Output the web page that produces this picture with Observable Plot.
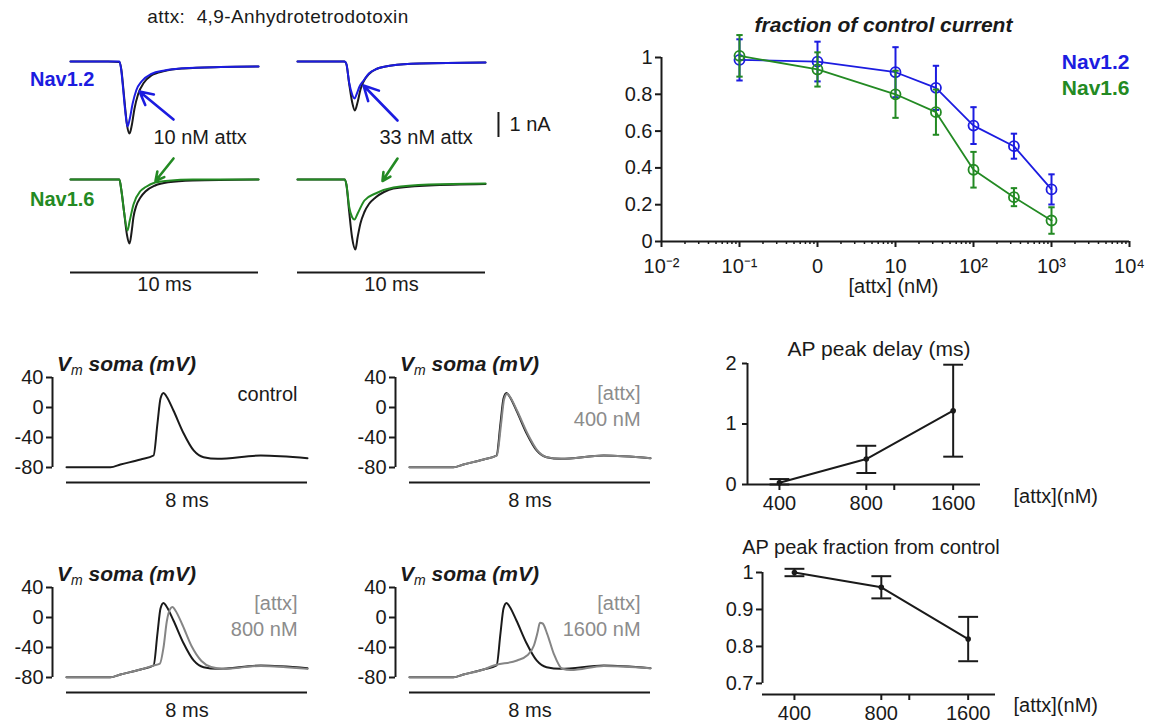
<!DOCTYPE html>
<html><head><meta charset="utf-8">
<script src="https://cdn.jsdelivr.net/npm/d3@7"></script>
<script src="https://cdn.jsdelivr.net/npm/@observablehq/plot@0.6"></script>
<style>
html,body{margin:0;padding:0;background:#fff;}
#fig{position:relative;width:1149px;height:725px;overflow:hidden;font-family:"Liberation Sans",Arial,sans-serif;color:#1a1a1a;background:#fff;}
#fig svg{overflow:visible;}
.lbl{position:absolute;white-space:nowrap;line-height:1.1;}
.vm{font-weight:bold;font-style:italic;font-size:21px;}
.vm sub{font-weight:normal;font-size:14px;vertical-align:-4px;}
</style></head><body><div id="fig"></div>
<script>
// ================= DATA =================
// Panel A: Na+ current traces, [time (ms), current (nA)]
const a10Nav12Control = [[0,0],[2.0,0],[2.6,-0.02],[2.7,-0.3],[2.8,-1.0],[2.9,-1.8],[3.0,-2.5],[3.14,-2.88],[3.26,-2.55],[3.4,-1.9],[3.6,-1.3],[3.9,-0.85],[4.3,-0.56],[5.0,-0.38],[6.0,-0.28],[8.0,-0.22],[10,-0.2]];
const a10Nav12Attx    = [[0,0],[2.6,0],[2.7,-0.35],[2.8,-1.1],[2.9,-1.9],[3.03,-2.6],[3.15,-2.3],[3.3,-1.7],[3.5,-1.15],[3.8,-0.78],[4.3,-0.5],[5.0,-0.36],[6.0,-0.27],[8.0,-0.22],[10,-0.2]];
const a10Nav16Control = [[0,0],[2.6,0],[2.7,-0.4],[2.85,-1.3],[3.0,-2.2],[3.14,-2.56],[3.25,-2.1],[3.35,-1.5],[3.5,-1.05],[3.72,-0.72],[4.0,-0.47],[4.5,-0.24],[5.2,-0.11],[6.5,-0.04],[10,0]];
const a10Nav16Attx    = [[0,0],[2.6,0],[2.7,-0.4],[2.85,-1.3],[3.03,-2.04],[3.15,-1.65],[3.35,-1.0],[3.72,-0.46],[4.0,-0.3],[4.5,-0.12],[5.2,-0.05],[6.5,0],[10,0]];
const a33Nav12Control = [[0,0],[2.5,0],[2.6,-0.1],[2.75,-0.9],[2.9,-1.6],[3.05,-1.96],[3.2,-1.62],[3.35,-1.12],[3.5,-0.82],[3.8,-0.5],[4.2,-0.3],[5.0,-0.16],[6.5,-0.08],[10,-0.04]];
const a33Nav12Attx    = [[0,0],[2.5,0],[2.6,-0.1],[2.75,-0.85],[2.9,-1.3],[3.03,-1.48],[3.15,-1.3],[3.3,-1.0],[3.5,-0.78],[3.8,-0.48],[4.2,-0.3],[5.0,-0.16],[6.5,-0.08],[10,-0.04]];
const a33Nav16Control = [[0,0],[2.5,0],[2.6,-0.2],[2.75,-1.3],[2.9,-2.3],[3.08,-2.8],[3.2,-2.3],[3.35,-1.75],[3.56,-1.3],[3.8,-0.98],[4.15,-0.72],[4.6,-0.5],[5.1,-0.36],[7.0,-0.24],[10,-0.18]];
const a33Nav16Attx    = [[0,0],[2.5,0],[2.6,-0.2],[2.75,-1.1],[2.9,-1.5],[3.03,-1.6],[3.2,-1.36],[3.56,-0.84],[4.15,-0.56],[5.1,-0.32],[7.0,-0.2],[10,-0.16]];
const doseLabels = ["10 nM attx", "33 nM attx"];
const timeBarLabel = "10 ms";
const currentBarLabel = "1 nA";

// Panel B: fraction of control current vs [attx]
const attxConc = [0.1, 1, 10, 33, 100, 330, 1000];
const nav12Mean = [0.987, 0.978, 0.92, 0.835, 0.63, 0.518, 0.283];
const nav12Err  = [0.112, 0.108, 0.136, 0.12, 0.10, 0.068, 0.082];
const nav16Mean = [1.009, 0.935, 0.80, 0.703, 0.39, 0.241, 0.114];
const nav16Err  = [0.113, 0.093, 0.128, 0.123, 0.097, 0.049, 0.072];
const fracYTicks = [0, 0.2, 0.4, 0.6, 0.8, 1];
const concTicks = [0.01, 0.1, 1, 10, 100, 1000, 10000];
const concTickLabels = ["10⁻²", "10⁻¹", "0", "10", "10²", "10³", "10⁴"];

// Panel C: somatic AP traces, [time (ms), Vm (mV)]
const apControl = [[0,-79.6],[1.46,-79.6],[1.79,-76],[2.46,-69.3],[2.89,-64],[3.02,-21],[3.12,12],[3.22,19.5],[3.32,14.7],[3.55,-4],[3.89,-34.7],[4.22,-57.3],[4.55,-66.3],[5.02,-68.4],[6.45,-64],[8.0,-67.6]];
const ap400  = [[0,-79.6],[1.46,-79.6],[1.79,-76],[2.46,-69.3],[2.9,-64],[3.04,-22],[3.14,11],[3.24,18.5],[3.34,14],[3.58,-5],[3.92,-35],[4.25,-57.5],[4.58,-66.5],[5.05,-68.4],[6.45,-64],[8.0,-67.6]];
const ap800  = [[0,-79.6],[1.46,-79.6],[1.79,-76],[2.46,-69.3],[2.89,-64],[3.1,-61.5],[3.22,-40],[3.33,-5],[3.45,12],[3.52,14],[3.62,9],[3.85,-10],[4.15,-38],[4.48,-58],[4.8,-66],[5.2,-68.5],[6.45,-64.5],[8.0,-68.5]];
const ap1600 = [[0,-79.6],[1.46,-79.6],[1.79,-76],[2.46,-69.3],[2.8,-64],[3.57,-57.3],[3.9,-50.7],[4.13,-37.3],[4.25,-20],[4.33,-7],[4.42,-8],[4.57,-21.7],[4.79,-48.4],[5.07,-68.4],[5.35,-70],[6.45,-64.5],[8.0,-67.6]];
const apYTicks = [40, 0, -40, -80];
const apNotes = ["control", "[attx]\n400 nM", "[attx]\n800 nM", "[attx]\n1600 nM"];
const apYLabel = "soma (mV)";

// Panel D: AP peak delay and AP peak fraction vs [attx]
const apConc = [400, 800, 1600];
const delayMean = [0.03, 0.42, 1.22];
const delayLo   = [0.0, 0.19, 0.46];
const delayHi   = [0.09, 0.64, 1.98];
const peakMean  = [1.0, 0.96, 0.82];
const peakLo    = [0.99, 0.93, 0.76];
const peakHi    = [1.01, 0.99, 0.88];
const apConcTicks = [400, 800, 1000, 1600];
const apConcTickLabels = ["400", "800", "", "1600"];

// ================= RENDER =================
const FONT = '"Liberation Sans", Arial, sans-serif';
const INK = "#1a1a1a", BLUE = "#1c1ce0", GREEN = "#238a23", GRAY = "#858585", NOTE = "#8c8c8c";
const baseStyle = {fontFamily: FONT, fontSize: "20px", color: INK, background: "transparent", overflow: "visible", maxWidth: "none"};
const fig = document.getElementById("fig");
const pts = arr => arr.map(([t, v]) => ({t, v}));
function put(node, left, top) {
  const d = document.createElement("div");
  d.style.cssText = `position:absolute;left:${left}px;top:${top}px;`;
  d.append(node);
  fig.append(d);
}
function label(html, x, y, css = "", anchor = "start") {
  const d = document.createElement("div");
  d.className = "lbl";
  const tx = anchor === "middle" ? "-50%" : anchor === "end" ? "-100%" : "0";
  d.style.cssText = `left:${x}px;top:${y}px;transform:translate(${tx},-50%);${css}`;
  d.innerHTML = html;
  fig.append(d);
  return d;
}
const capSymbol = {draw(ctx, size) { const w = Math.sqrt(size); ctx.moveTo(-w, 0); ctx.lineTo(w, 0); }};

// ---- Panel A ----
const naView = {top: [-3.56, 0.84], bottom: [-3.72, 1.16]};
function tracePlot(control, drug, color, yDomain, height, marginBottom, extra) {
  return Plot.plot({
    width: 188, height, marginLeft: 0, marginRight: 0, marginTop: 0, marginBottom,
    x: {domain: [0, 10], axis: null},
    y: {domain: yDomain, axis: null},
    style: baseStyle,
    marks: [
      Plot.line(pts(control), {x: "t", y: "v", stroke: INK, strokeWidth: 2, curve: "monotone-x"}),
      Plot.line(pts(drug), {x: "t", y: "v", stroke: color, strokeWidth: 2, curve: "monotone-x"}),
      ...extra
    ]
  });
}
const arrowOpts = {x1: "t1", y1: "i1", x2: "t2", y2: "i2", strokeWidth: 2.6, headLength: 13, headAngle: 55};
const annA = [
  {arrow12: {t1: 5.48, i1: -2.32, t2: 3.67, i2: -1.2}, arrow16: {t1: 5.48, i1: 0.84, t2: 4.52, i2: -0.06}, lab: {t: 4.41, i: -3.04}},
  {arrow12: {t1: 5.32, i1: -2.36, t2: 3.51, i2: -0.96}, arrow16: {t1: 5.32, i1: 0.84, t2: 4.52, i2: -0.06}, lab: {t: 4.36, i: -3.04}}
];
const traceSets = [
  [a10Nav12Control, a10Nav12Attx, a10Nav16Control, a10Nav16Attx],
  [a33Nav12Control, a33Nav12Attx, a33Nav16Control, a33Nav16Attx]
];
const colLeft = [70, 297];
traceSets.forEach(([c12, d12, c16, d16], k) => {
  const ann = annA[k];
  const extra12 = [
    Plot.arrow([ann.arrow12], {...arrowOpts, stroke: BLUE}),
    Plot.text([{...ann.lab, s: doseLabels[k]}], {x: "t", y: "i", text: "s", textAnchor: "start", fill: INK})
  ];
  if (k === 1) {
    extra12.push(Plot.ruleX([{t: 10.69, i1: -2.04, i2: -3.04}], {x: "t", y1: "i1", y2: "i2", stroke: INK, strokeWidth: 2}));
    extra12.push(Plot.text([{t: 11.28, i: -2.52, s: currentBarLabel}], {x: "t", y: "i", text: "s", textAnchor: "start", fill: INK}));
  }
  put(tracePlot(c12, d12, BLUE, naView.top, 110, 0, extra12), colLeft[k], 40);
  const extra16 = [
    Plot.arrow([ann.arrow16], {...arrowOpts, stroke: GREEN}),
    Plot.ruleY([naView.bottom[0]], {stroke: INK, strokeWidth: 2}),
    Plot.text([timeBarLabel], {frameAnchor: "bottom", dy: 18, fill: INK})
  ];
  put(tracePlot(c16, d16, GREEN, naView.bottom, 152, 30, extra16), colLeft[k], 150);
});
label("attx:&nbsp; 4,9-Anhydrotetrodotoxin", 278, 17, "font-size:19px;letter-spacing:0.4px;", "middle");
label("Nav1.2", 30, 79, `font-size:20px;font-weight:bold;color:${BLUE};`);
label("Nav1.6", 30, 199, `font-size:20px;font-weight:bold;color:${GREEN};`);

// ---- Panel B ----
const doseRows = (mean, err, name) => attxConc.map((c, i) => ({c, m: mean[i], lo: mean[i] - err[i], hi: mean[i] + err[i], name}));
const rows12 = doseRows(nav12Mean, nav12Err, "Nav1.2");
const rows16 = doseRows(nav16Mean, nav16Err, "Nav1.6");
const concView = [concTicks[0], concTicks[concTicks.length - 1]];
const minorTicks = [];
for (let e = -2; e < 4; e++) for (let m = 2; m <= 9; m++) minorTicks.push(m * 10 ** e);
const concLabelMap = new Map(concTicks.map((d, i) => [d, concTickLabels[i]]));
function doseMarks(rows, color) {
  return [
    Plot.ruleX(rows, {x: "c", y1: "lo", y2: "hi", stroke: color, strokeWidth: 2}),
    Plot.dot(rows, {x: "c", y: "hi", symbol: capSymbol, r: 1.8, stroke: color, fill: "none", strokeWidth: 2}),
    Plot.dot(rows, {x: "c", y: "lo", symbol: capSymbol, r: 1.8, stroke: color, fill: "none", strokeWidth: 2}),
    Plot.line(rows, {x: "c", y: "m", stroke: color, strokeWidth: 1.8}),
    Plot.dot(rows, {x: "c", y: "m", r: 5, stroke: color, fill: "none", strokeWidth: 1.8})
  ];
}
put(Plot.plot({
  width: 569, height: 280, marginLeft: 81, marginRight: 20, marginTop: 27, marginBottom: 69,
  x: {type: "log", domain: concView},
  y: {domain: [0, 1]},
  style: baseStyle,
  marks: [
    Plot.ruleY([0], {stroke: INK, strokeWidth: 2}),
    Plot.ruleX([concView[0]], {y1: 0, y2: 1, stroke: INK, strokeWidth: 2}),
    Plot.axisY({ticks: fracYTicks, tickFormat: d => String(d), tickSize: 6, tickPadding: 3, label: null, strokeWidth: 2}),
    Plot.axisX({ticks: concTicks, tickFormat: d => concLabelMap.get(d), tickSize: 6, tickPadding: 11, label: null, strokeWidth: 2}),
    Plot.axisX({ticks: minorTicks, tickFormat: () => "", tickSize: 3, label: null, strokeWidth: 1.5}),
    ...doseMarks(rows12, BLUE),
    ...doseMarks(rows16, GREEN),
    Plot.text(["fraction of control current"], {frameAnchor: "top", dx: -12, dy: -40, fontWeight: "bold", fontStyle: "italic", fontSize: 21, fill: INK}),
    Plot.text(["[attx] (nM)"], {frameAnchor: "bottom", dx: -2, dy: 51, fill: INK}),
    Plot.text(["Nav1.2"], {frameAnchor: "top-right", dy: -3, fontWeight: "bold", fontSize: 21, fill: BLUE}),
    Plot.text(["Nav1.6"], {frameAnchor: "top-right", dy: 23, fontWeight: "bold", fontSize: 21, fill: GREEN})
  ]
}), 580, 30);

// ---- Panel C ----
const apView = [-0.465, 8];
const apPanels = [
  {traces: [[apControl, INK]], note: apNotes[0], col: 0, row: 0},
  {traces: [[apControl, INK], [ap400, GRAY]], note: apNotes[1], col: 1, row: 0},
  {traces: [[apControl, INK], [ap800, GRAY]], note: apNotes[2], col: 0, row: 1},
  {traces: [[apControl, INK], [ap1600, GRAY]], note: apNotes[3], col: 1, row: 1}
];
const apColOffset = [0, 343], apRowOffset = [0, 210];
apPanels.forEach(p => {
  const isCtl = p.note === "control";
  const svg = Plot.plot({
    width: 330, height: 152, marginLeft: 52, marginRight: 23, marginTop: 17, marginBottom: 45,
    x: {domain: apView, axis: null},
    y: {domain: [apYTicks[apYTicks.length - 1], apYTicks[0]]},
    style: baseStyle,
    marks: [
      Plot.ruleX([apView[0]], {y1: -80, y2: 40, stroke: INK, strokeWidth: 2}),
      Plot.axisY({ticks: apYTicks, tickFormat: d => String(d), tickSize: 6, tickPadding: 3, label: null, strokeWidth: 2}),
      Plot.ruleY([{v: -100, t1: 0, t2: 8}], {y: "v", x1: "t1", x2: "t2", stroke: INK, strokeWidth: 2}),
      Plot.text([{t: 4, v: -100, s: "8 ms"}], {x: "t", y: "v", text: "s", dy: 18, fill: INK}),
      ...p.traces.map(([tr, color]) => Plot.line(pts(tr), {x: "t", y: "v", stroke: color, strokeWidth: 2, curve: "monotone-x"})),
      Plot.text([{t: 7.67, v: isCtl ? 20 : 4, s: p.note}], {x: "t", y: "v", text: "s", textAnchor: "end", lineHeight: 1.3, fill: isCtl ? INK : NOTE})
    ]
  });
  put(svg, apColOffset[p.col], 360 + apRowOffset[p.row]);
  label(`V<sub>m</sub> ${apYLabel}`, 57 + apColOffset[p.col], 365 + apRowOffset[p.row], "", "start").classList.add("vm");
});

// ---- Panel D ----
const apConcView = [310, 1990];
const apConcLabelMap = new Map(apConcTicks.map((d, i) => [d, apConcTickLabels[i]]));
function summaryMarks(mean, lo, hi) {
  const rows = apConc.map((c, i) => ({c, m: mean[i], lo: lo[i], hi: hi[i]}));
  return [
    Plot.ruleX(rows, {x: "c", y1: "lo", y2: "hi", stroke: INK, strokeWidth: 2}),
    Plot.dot(rows, {x: "c", y: "hi", symbol: capSymbol, r: 5.6, stroke: INK, fill: "none", strokeWidth: 2}),
    Plot.dot(rows, {x: "c", y: "lo", symbol: capSymbol, r: 5.6, stroke: INK, fill: "none", strokeWidth: 2}),
    Plot.line(rows, {x: "c", y: "m", stroke: INK, strokeWidth: 2}),
    Plot.dot(rows, {x: "c", y: "m", r: 2.8, fill: INK})
  ];
}
put(Plot.plot({
  width: 469, height: 200, marginLeft: 67, marginRight: 169, marginTop: 43, marginBottom: 36,
  x: {type: "log", domain: apConcView},
  y: {domain: [0, 2]},
  style: baseStyle,
  marks: [
    Plot.ruleY([0], {stroke: INK, strokeWidth: 2}),
    Plot.ruleX([apConcView[0]], {y1: 0, y2: 2, stroke: INK, strokeWidth: 2}),
    Plot.axisY({ticks: [0, 1, 2], tickFormat: d => String(d), tickSize: 5, tickPadding: 6, label: null, strokeWidth: 2}),
    Plot.axisX({ticks: apConcTicks, tickFormat: d => apConcLabelMap.get(d), tickSize: 6, tickPadding: 5, label: null, strokeWidth: 2}),
    ...summaryMarks(delayMean, delayLo, delayHi),
    Plot.text(["AP peak delay (ms)"], {frameAnchor: "top", dx: 15, dy: -22, fontSize: 21, fill: INK}),
    Plot.text(["[attx](nM)"], {frameAnchor: "bottom-right", textAnchor: "start", dx: 33, dy: 18, fill: INK})
  ]
}), 680, 320);

put(Plot.plot({
  width: 469, height: 205, marginLeft: 82, marginRight: 154, marginTop: 52, marginBottom: 31,
  x: {type: "log", domain: apConcView},
  y: {domain: [0.67, 1]},
  style: baseStyle,
  marks: [
    Plot.ruleY([0.67], {stroke: INK, strokeWidth: 2}),
    Plot.ruleX([apConcView[0]], {y1: 0.7, y2: 1, stroke: INK, strokeWidth: 2}),
    Plot.axisY({ticks: [0.7, 0.8, 0.9, 1], tickFormat: d => String(d), tickSize: 6, tickPadding: 3, label: null, strokeWidth: 2}),
    Plot.axisX({ticks: apConcTicks, tickFormat: d => apConcLabelMap.get(d), tickSize: 6, tickPadding: 5, label: null, strokeWidth: 2}),
    ...summaryMarks(peakMean, peakLo, peakHi),
    Plot.text(["AP peak fraction from control"], {frameAnchor: "top", dx: -8, dy: -33, fontSize: 20, fill: INK}),
    Plot.text(["[attx](nM)"], {frameAnchor: "bottom-right", textAnchor: "start", dx: 18, dy: 17, fill: INK})
  ]
}), 680, 520);
</script></body></html>
